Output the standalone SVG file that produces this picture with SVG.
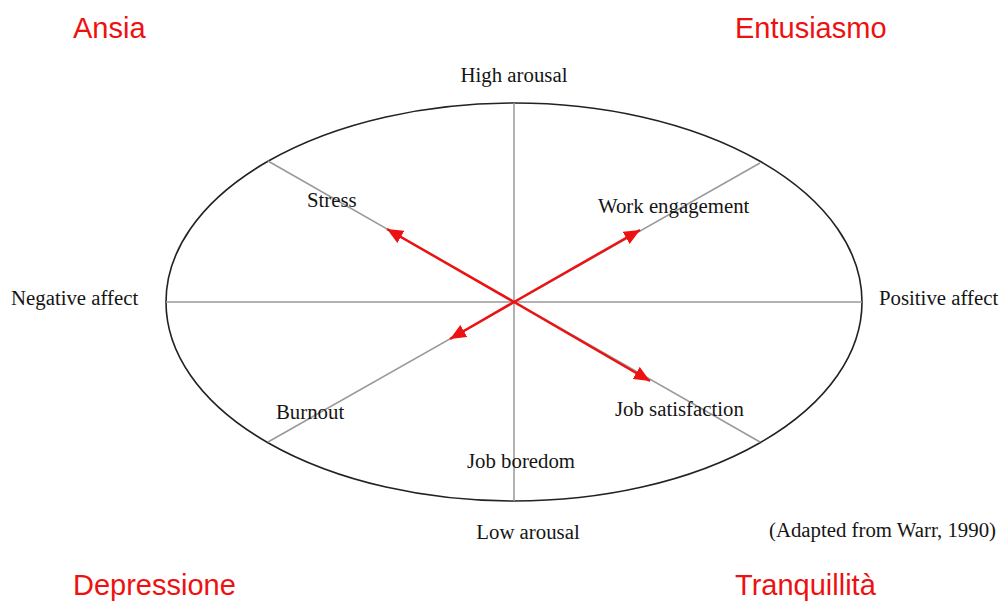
<svg xmlns="http://www.w3.org/2000/svg" width="1001" height="601" viewBox="0 0 1001 601">
<style>
.lbl{font-family:"Liberation Serif","Times New Roman",serif;font-size:20.8px;fill:#151515}
.red{font-family:"Liberation Sans",Arial,sans-serif;font-size:29px;fill:#ee1111}
.axis{stroke:#999;stroke-width:1.5;fill:none}
.arr{stroke:#ee1111;stroke-width:2.5;fill:none;marker-end:url(#ah)}
</style>
<defs>
<marker id="ah" markerUnits="userSpaceOnUse" markerWidth="18" markerHeight="14" refX="16" refY="7" orient="auto">
<path d="M0,0 L16,7 L0,14 Z" fill="#ee1111"/>
</marker>
</defs>
<rect width="1001" height="601" fill="#fff"/>
<g id="frame">
<ellipse cx="514" cy="302" rx="348" ry="199" fill="none" stroke="#222" stroke-width="1.6"/>
<line class="axis" x1="166" y1="302" x2="862" y2="302"/>
<line class="axis" x1="514" y1="103" x2="514" y2="501"/>
<line class="axis" x1="268" y1="161" x2="760" y2="442"/>
<line class="axis" x1="268" y1="442" x2="760" y2="163"/>
</g>
<g id="connectors">
<line class="arr" x1="514" y1="302" x2="387" y2="229"/>
<line class="arr" x1="514" y1="302" x2="640" y2="230"/>
<line class="arr" x1="514" y1="302" x2="450" y2="339"/>
<line class="arr" x1="514" y1="302" x2="650" y2="381"/>
</g>
<g id="axis-labels">
<text class="lbl" x="514" y="82" text-anchor="middle">High arousal</text>
<text class="lbl" x="528" y="539" text-anchor="middle">Low arousal</text>
<text class="lbl" x="11" y="305">Negative affect</text>
<text class="lbl" x="879" y="305">Positive affect</text>
</g>
<g id="node-stress"><text class="lbl" x="307" y="207">Stress</text></g>
<g id="node-work-engagement"><text class="lbl" x="598" y="213">Work engagement</text></g>
<g id="node-burnout"><text class="lbl" x="276" y="419">Burnout</text></g>
<g id="node-job-satisfaction"><text class="lbl" x="615" y="416">Job satisfaction</text></g>
<g id="node-job-boredom"><text class="lbl" x="467" y="468">Job boredom</text></g>
<g id="source"><text class="lbl" x="769" y="537">(Adapted from Warr, 1990)</text></g>
<g id="quadrants">
<text class="red" x="73" y="38">Ansia</text>
<text class="red" x="735" y="38">Entusiasmo</text>
<text class="red" x="73" y="595">Depressione</text>
<text class="red" x="735" y="595">Tranquillità</text>
</g>
</svg>
